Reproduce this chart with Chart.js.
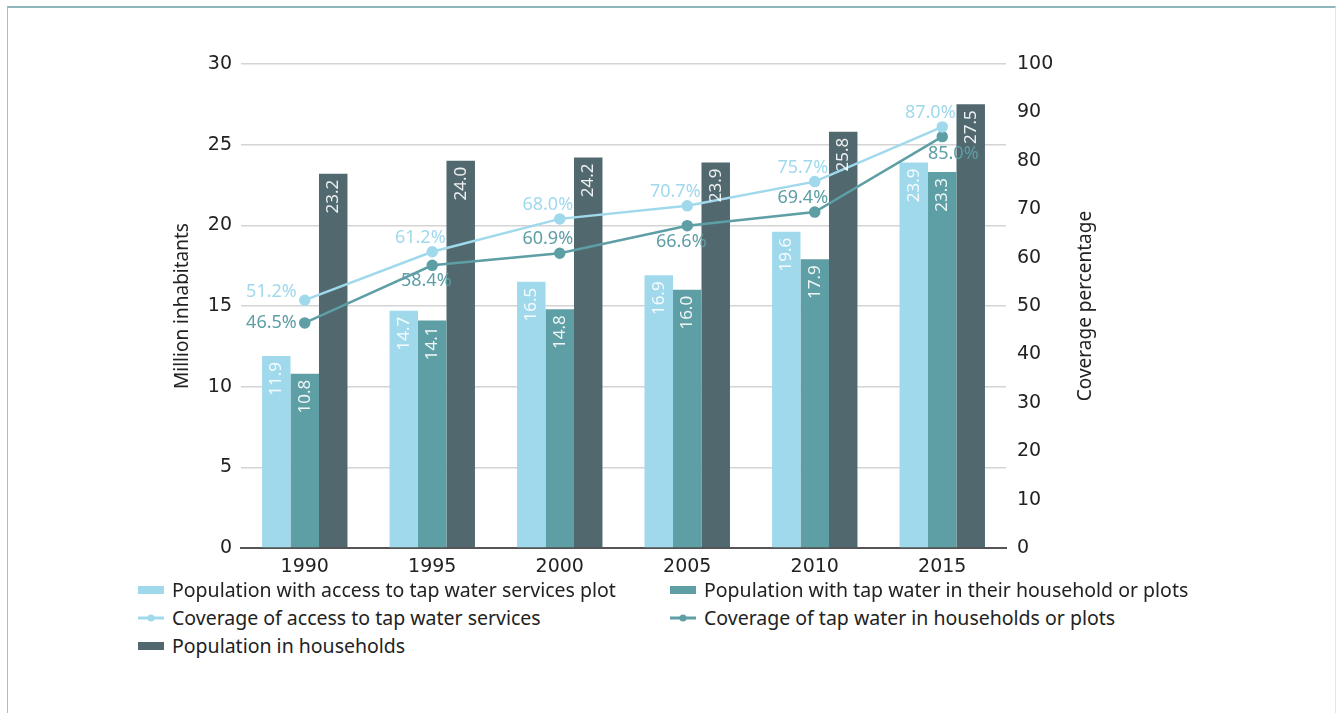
<!DOCTYPE html>
<html>
<head>
<meta charset="utf-8">
<script src="https://cdn.jsdelivr.net/npm/chart.js@4.4.1/dist/chart.umd.min.js"></script>
<style>
  body { margin: 0; background: #fff; font-family: "Noto Sans", sans-serif; }
  #frame {
    position: absolute; left: 7px; top: 6px; width: 1327px; height: 740px;
    border-top: 2px solid #8db8bb; border-left: 1px solid #9cc3c5; border-right: 1px solid #dfe6e8;
  }
  #wrap { position: absolute; left: 0; top: 0; width: 1336px; height: 580px; }
  #legend { position: absolute; left: 138px; top: 575px; width: 1100px; }
  .item { position: absolute; display: flex; align-items: center; font-size: 19.5px; color: #222; white-space: nowrap; }
  .item canvas { margin-right: 8px; }
</style>
</head>
<body>
<div id="frame"></div>
<div id="wrap"><canvas id="myChart"></canvas></div>
<div id="legend"></div>
<script>
// datos
const years = ["1990", "1995", "2000", "2005", "2010", "2015"];
const popAccess = [11.9, 14.7, 16.5, 16.9, 19.6, 23.9];
const popTapHousehold = [10.8, 14.1, 14.8, 16.0, 17.9, 23.3];
const popHouseholds = [23.2, 24.0, 24.2, 23.9, 25.8, 27.5];
const coverageAccess = [51.2, 61.2, 68.0, 70.7, 75.7, 87.0];
const coverageTap = [46.5, 58.4, 60.9, 66.6, 69.4, 85.0];
const leftTicks = [0, 5, 10, 15, 20, 25, 30];
const rightTicks = [0, 10, 20, 30, 40, 50, 60, 70, 80, 90, 100];

const light = "#a1d9ec";
const mid = "#5e9ea5";
const dark = "#50686e";

// donde va cada etiqueta de las lineas
const spotsAccess = ["left", "above", "above", "above", "above", "above"];
const spotsTap = ["left", "below", "above", "below", "above", "belowRight"];

const labelPlugin = {
  id: "labels",
  afterDatasetsDraw(chart) {
    const ctx = chart.ctx;
    chart.data.datasets.forEach((ds, i) => {
      const meta = chart.getDatasetMeta(i);
      meta.data.forEach((el, j) => {
        const v = ds.data[j];
        ctx.save();
        if (ds.type === "bar") {
          ctx.translate(el.x, el.y + 6);
          ctx.rotate(-Math.PI / 2);
          ctx.font = "17px 'Noto Sans'";
          ctx.fillStyle = "rgba(255,255,255,0.9)";
          ctx.textAlign = "right";
          ctx.textBaseline = "middle";
          ctx.fillText(v.toFixed(1), 0, 0);
        } else {
          const spot = ds.spots[j];
          ctx.font = "18px 'Noto Sans'";
          ctx.fillStyle = ds.borderColor;
          ctx.textBaseline = "middle";
          let x = el.x, y = el.y;
          if (spot === "left") { ctx.textAlign = "right"; x -= 8; y -= ds.label.indexOf("access") > 0 ? 8 : 0; }
          else if (spot === "above") { ctx.textAlign = "center"; x -= 12; y -= 14; }
          else if (spot === "below") { ctx.textAlign = "center"; x -= 6; y += 16; }
          else { ctx.textAlign = "center"; x += 11; y += 17; }
          ctx.fillText(v.toFixed(1) + "%", x, y);
        }
        ctx.restore();
      });
    });
  },
  afterDraw(chart) {
    // titulo del eje derecho, leido de abajo hacia arriba
    const ctx = chart.ctx;
    const a = chart.chartArea;
    ctx.save();
    ctx.translate(a.right + 80, (a.top + a.bottom) / 2);
    ctx.rotate(-Math.PI / 2);
    ctx.font = "19px 'Noto Sans'";
    ctx.fillStyle = "#222";
    ctx.textAlign = "center";
    ctx.textBaseline = "middle";
    ctx.fillText("Coverage percentage", 0, 0);
    ctx.restore();
  }
};

const ctx = document.getElementById("myChart").getContext("2d");
const chart = new Chart(ctx, {
  data: {
    labels: years,
    datasets: [
      { type: "line", label: "Coverage of access to tap water services", data: coverageAccess, yAxisID: "y1",
        borderColor: light, backgroundColor: light, borderWidth: 2.5, pointRadius: 4.5, spots: spotsAccess, order: 0 },
      { type: "line", label: "Coverage of tap water in households or plots", data: coverageTap, yAxisID: "y1",
        borderColor: mid, backgroundColor: mid, borderWidth: 2.5, pointRadius: 4.5, spots: spotsTap, order: 0 },
      { type: "bar", label: "Population with access to tap water services plot", data: popAccess, yAxisID: "y",
        backgroundColor: light, order: 1 },
      { type: "bar", label: "Population with tap water in their household or plots", data: popTapHousehold, yAxisID: "y",
        backgroundColor: mid, order: 1 },
      { type: "bar", label: "Population in households", data: popHouseholds, yAxisID: "y",
        backgroundColor: dark, order: 1 },
    ],
  },
  options: {
    responsive: true,
    maintainAspectRatio: false,
    animation: false,
    datasets: { bar: { barPercentage: 1, categoryPercentage: 0.67 } },
    layout: { padding: { left: 171, right: 230, top: 64, bottom: 0 } },
    plugins: { legend: { display: false }, tooltip: { enabled: false } },
    scales: {
      x: {
        grid: { display: false },
        border: { color: "#555", width: 2 },
        ticks: { color: "#222", font: { size: 19, family: "'DejaVu Sans'" }, padding: 0 },
        afterFit: (s) => { s.height = 32; },
      },
      y: {
        position: "left", min: 0, max: 30,
        afterBuildTicks: (s) => { s.ticks = leftTicks.map((v) => ({ value: v })); },
        grid: { color: "#d4d4d4", lineWidth: 1.5, drawTicks: false },
        border: { display: false },
        ticks: { color: "#222", font: { size: 19, family: "'DejaVu Sans'" }, padding: 9 },
        title: { display: true, text: "Million inhabitants", color: "#222", font: { size: 19, family: "'Noto Sans'" }, padding: 0 },
        afterFit: (s) => { s.width = 70; },
      },
      y1: {
        position: "right", min: 0, max: 100,
        afterBuildTicks: (s) => { s.ticks = rightTicks.map((v) => ({ value: v })); },
        grid: { display: false, drawTicks: false },
        border: { display: false },
        ticks: { color: "#222", font: { size: 19, family: "'DejaVu Sans'" }, padding: 11 },
        afterFit: (s) => { s.width = 100; },
      },
    },
  },
  plugins: [labelPlugin],
});

// leyenda en html, dos columnas
const legendOrder = [
  [2, 0, 1], [3, 532, 1],
  [0, 0, 29], [1, 532, 29],
  [4, 0, 57],
];
const legend = document.getElementById("legend");
legendOrder.forEach(([i, x, y]) => {
  const ds = chart.data.datasets[i];
  const div = document.createElement("div");
  div.className = "item";
  div.style.left = x + "px";
  div.style.top = y + "px";
  const c = document.createElement("canvas");
  c.width = 26; c.height = 12;
  const g = c.getContext("2d");
  if (ds.type === "bar") {
    g.fillStyle = ds.backgroundColor;
    g.fillRect(0, 2, 26, 8);
  } else {
    g.strokeStyle = ds.borderColor; g.lineWidth = 3;
    g.beginPath(); g.moveTo(0, 6); g.lineTo(26, 6); g.stroke();
    g.fillStyle = ds.borderColor;
    g.beginPath(); g.arc(13, 6, 3.5, 0, Math.PI * 2); g.fill();
  }
  div.appendChild(c);
  div.appendChild(document.createTextNode(ds.label));
  legend.appendChild(div);
});
</script>
</body>
</html>
